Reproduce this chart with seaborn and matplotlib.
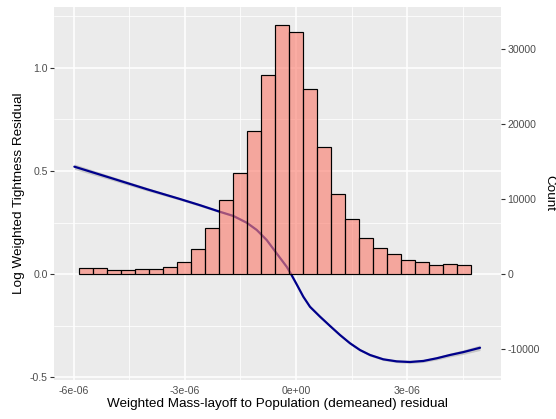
import numpy as np
import pandas as pd
import matplotlib
matplotlib.use("Agg")
import matplotlib.pyplot as plt
import seaborn as sns
from matplotlib.ticker import FixedLocator

# Histogram of the weighted mass-layoff residual: equal-width bins
bin_start = -5.865e-06
bin_width = 3.784e-07
counts = [760, 760, 570, 570, 700, 710, 970, 1640, 3290, 6170, 9900, 13500,
          19100, 26530, 33240, 32300, 24700, 16970, 10700, 7370, 4840, 3500,
          2670, 1870, 1560, 1160, 1330, 1240]

# Smoothed fit of the log weighted tightness residual (x in units of 1e-6)
fit_x = [-5.99, -5.0, -4.0, -3.135, -2.595, -2.054, -1.695, -1.332, -1.062,
         -0.792, -0.522, -0.251, -0.135, 0.027, 0.197, 0.378, 0.649, 0.919,
         1.189, 1.459, 1.730, 2.0, 2.359, 2.722, 3.081, 3.441, 3.803, 4.162,
         4.522, 4.973]
fit_y = [0.521, 0.466, 0.410, 0.364, 0.334, 0.302, 0.282, 0.249, 0.214,
         0.165, 0.100, 0.035, 0.0, -0.053, -0.110, -0.159, -0.207, -0.252,
         -0.296, -0.336, -0.369, -0.393, -0.414, -0.424, -0.427, -0.422,
         -0.409, -0.393, -0.379, -0.358]
fit_se = [0.013, 0.010, 0.008, 0.006, 0.006, 0.005, 0.005, 0.005, 0.005,
          0.005, 0.005, 0.005, 0.005, 0.005, 0.005, 0.005, 0.005, 0.005,
          0.005, 0.005, 0.005, 0.006, 0.006, 0.006, 0.007, 0.007, 0.008,
          0.009, 0.011, 0.013]

x_ticks = [-6e-06, -3e-06, 0.0, 3e-06]
x_tick_labels = ["-6e-06", "-3e-06", "0e+00", "3e-06"]
y_ticks = [-0.5, 0.0, 0.5, 1.0]
y_tick_labels = ["-0.5", "0.0", "0.5", "1.0"]
count_ticks = [-10000, 0, 10000, 20000, 30000]
count_tick_labels = ["-10000", "0", "10000", "20000", "30000"]

# counts per unit of the left axis (secondary axis transform)
count_per_unit = 27470.0

sns.set_theme(style="darkgrid")
plt.rcParams["font.family"] = ["Liberation Sans", "DejaVu Sans"]

W, H = 556, 419
fig = plt.figure(figsize=(W / 100, H / 100), dpi=100)
left, right, top, bottom = 54, 501, 7, 379.5
ax = fig.add_axes([left / W, 1 - bottom / H, (right - left) / W, (bottom - top) / H])
ax.set_facecolor("#EBEBEB")

fx = np.array(fit_x) * 1e-06
fy = np.array(fit_y)
fse = np.array(fit_se)
ax.fill_between(fx, fy - fse, fy + fse, color="#999999", alpha=0.45, lw=0, zorder=2)
sns.lineplot(x=fx, y=fy, ax=ax, color="#00008B", linewidth=1.6, zorder=3,
             sort=False, estimator=None)
ax.lines[-1].set_solid_joinstyle("round")

xlim = (-6.54e-06, 5.54e-06)
ylim = (-0.512, 1.296)
ax.set_xlim(*xlim)
ax.set_ylim(*ylim)

ax.xaxis.set_major_locator(FixedLocator(x_ticks))
ax.set_xticklabels(x_tick_labels)
ax.xaxis.set_minor_locator(FixedLocator([-4.5e-06, -1.5e-06, 1.5e-06, 4.5e-06]))
ax.yaxis.set_major_locator(FixedLocator(y_ticks))
ax.set_yticklabels(y_tick_labels)
ax.yaxis.set_minor_locator(FixedLocator([-0.25, 0.25, 0.75, 1.25]))
ax.grid(which="major", color="white", linewidth=1.1)
ax.grid(which="minor", color="white", linewidth=0.55)
ax.set_axisbelow(True)
for s in ax.spines.values():
    s.set_visible(False)
ax.tick_params(which="major", length=3, width=0.8, color="#333333",
               labelsize=7.6, labelcolor="#4D4D4D", pad=1.5)
ax.tick_params(which="minor", length=0)
ax.set_xlabel("")
ax.set_ylabel("")

# Count histogram on a twin axis sharing the same vertical scale
ax2 = ax.twinx()
edges = bin_start + bin_width * np.arange(len(counts) + 1)
hist_df = pd.DataFrame({"x": (edges[:-1] + edges[1:]) / 2, "n": counts})
sns.histplot(data=hist_df, x="x", weights="n", bins=len(counts),
             binrange=(edges[0], edges[-1]), ax=ax2,
             stat="count", element="bars", fill=True)
for p in ax2.patches:
    p.set_alpha(None)
    p.set_facecolor((250 / 255, 128 / 255, 114 / 255, 0.64))
    p.set_edgecolor("black")
    p.set_linewidth(0.85)
ax2.set_ylim(ylim[0] * count_per_unit, ylim[1] * count_per_unit)
ax2.set_xlim(*xlim)
ax2.grid(False)
ax2.patch.set_visible(False)
for s in ax2.spines.values():
    s.set_visible(False)
ax2.yaxis.set_major_locator(FixedLocator(count_ticks))
ax2.set_yticklabels(count_tick_labels)
ax2.tick_params(axis="y", which="major", length=3, width=0.8, color="#333333",
                labelsize=7.6, labelcolor="#4D4D4D", pad=1.5, right=True, left=False)
ax2.set_ylabel("")

fig.text((left + right) / 2 / W, 1 - 404 / H,
         "Weighted Mass-layoff to Population (demeaned) residual",
         ha="center", va="center", fontsize=9.7, color="black")
fig.text(19 / W, 1 - (top + bottom) / 2 / H, "Log Weighted Tightness Residual",
         ha="center", va="center", rotation=90, fontsize=9.7, color="black")
fig.text(549 / W, 1 - (top + bottom) / 2 / H, "Count",
         ha="center", va="center", rotation=-90, fontsize=9.7, color="black")

fig.savefig("out.png", dpi=100)
